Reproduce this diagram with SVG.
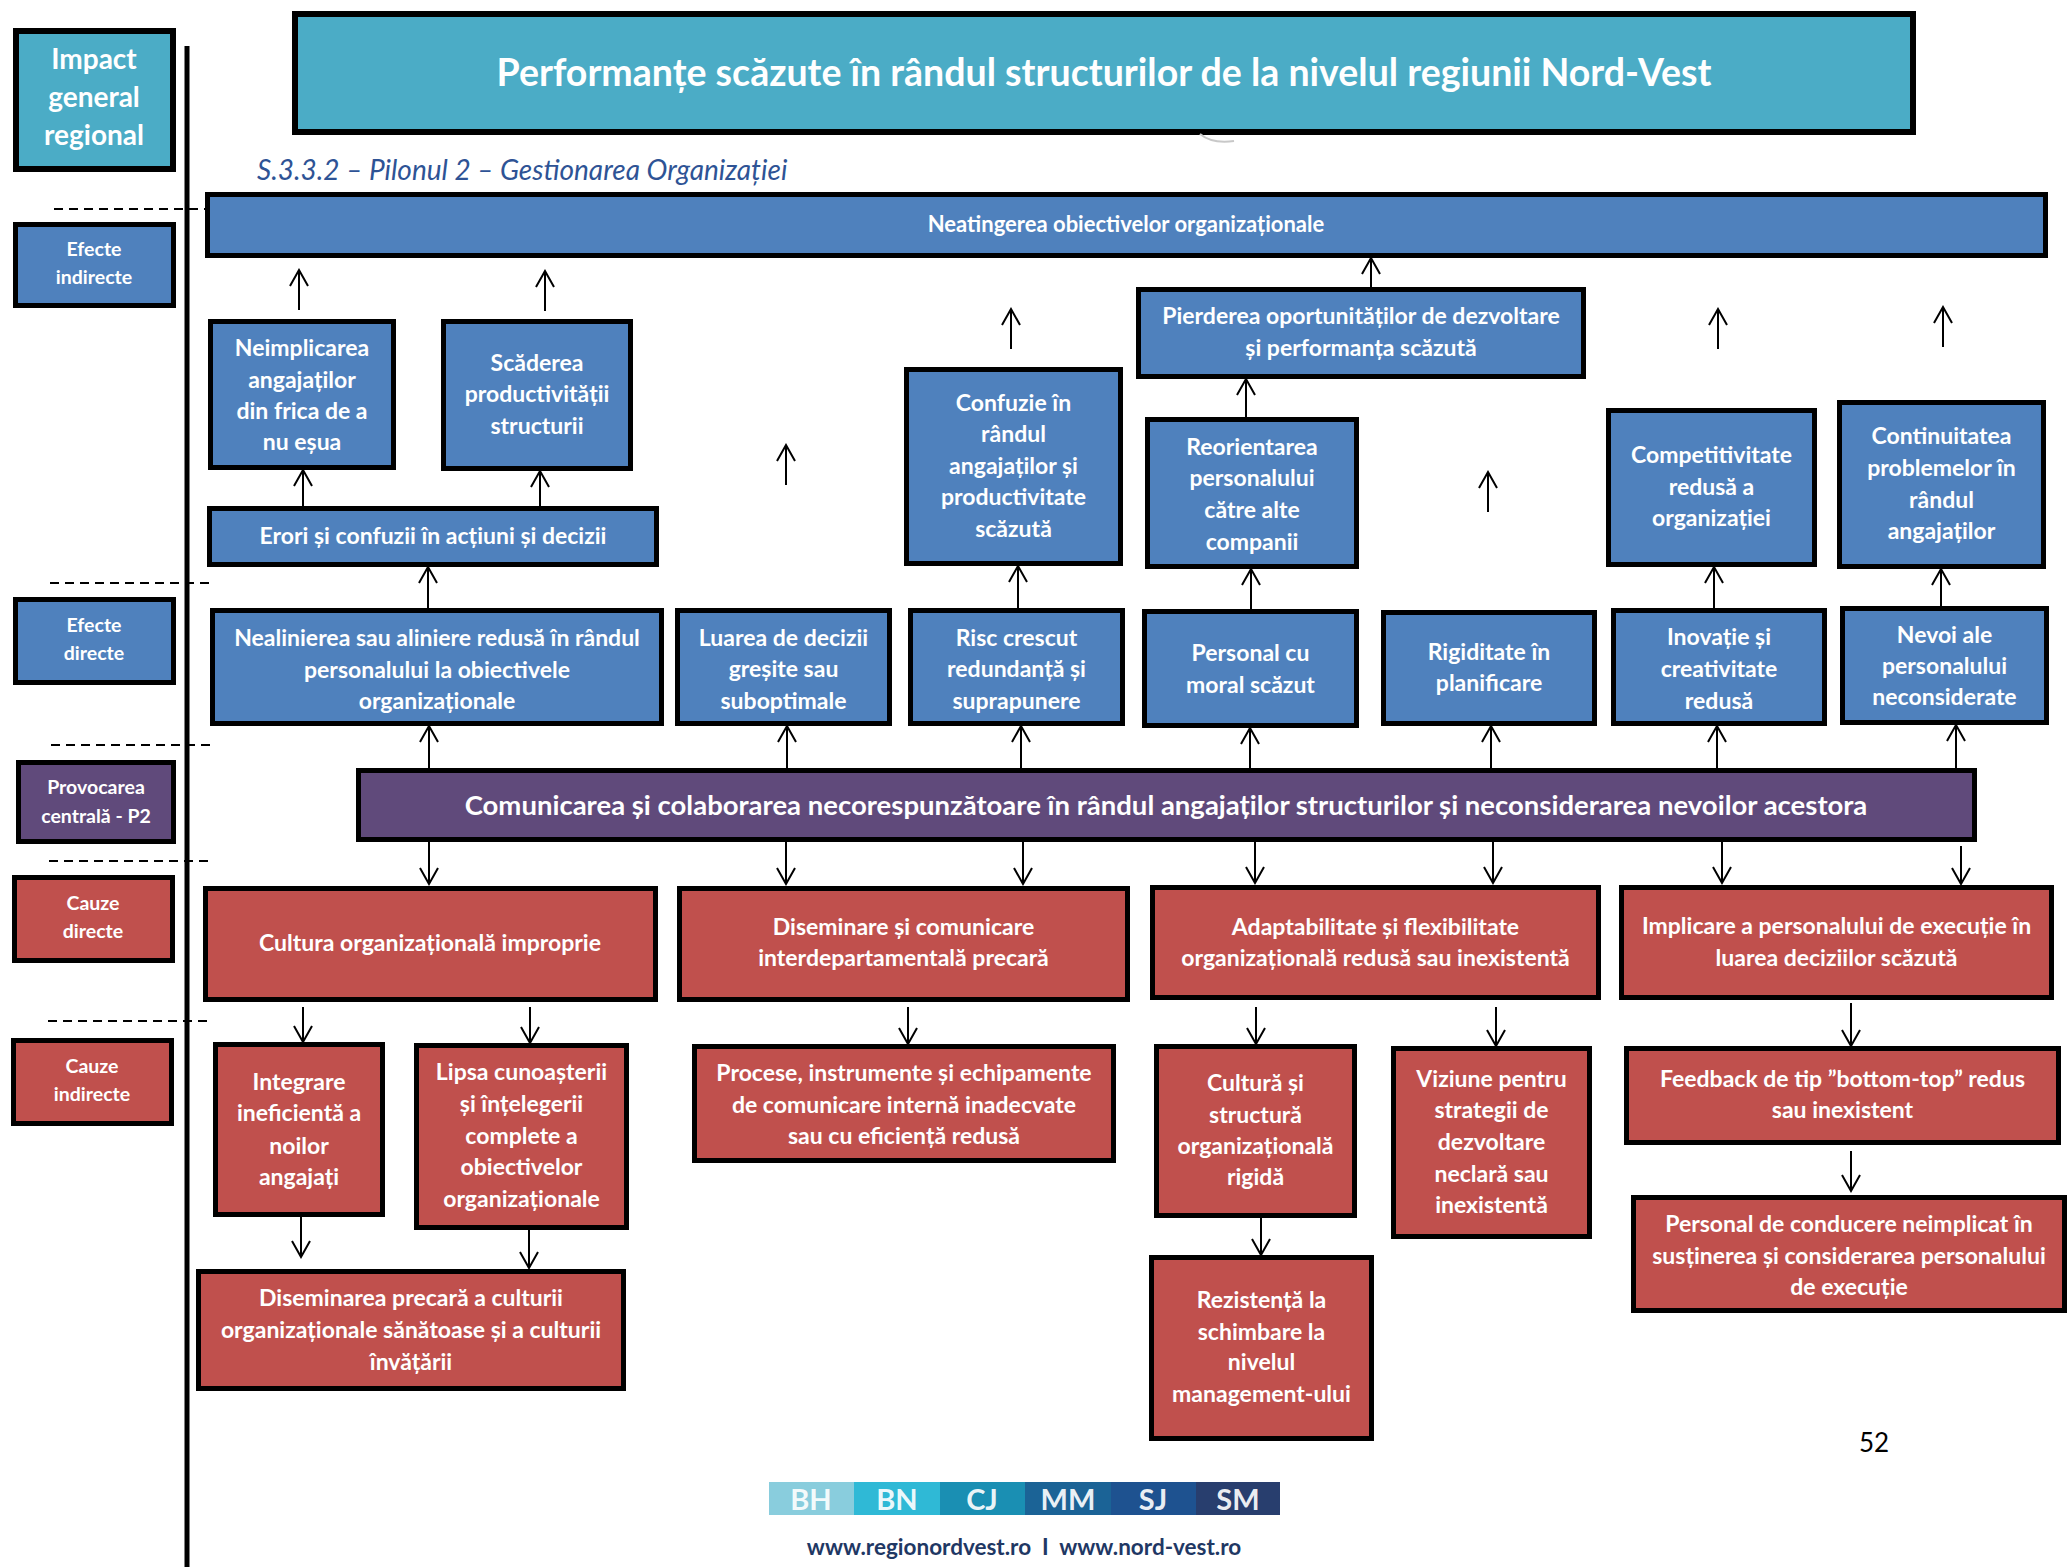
<svg xmlns="http://www.w3.org/2000/svg" width="2070" height="1567" viewBox="0 0 2070 1567">
  <style>
    .box { stroke: #000; stroke-width: 5; }
    .teal { fill: #4BACC6; }
    .blue { fill: #4F81BD; }
    .purple { fill: #604A7B; }
    .red { fill: #C0504D; }
    text { font-family: Lato, "Liberation Sans", sans-serif; }
    .t { fill: #fff; font-weight: bold; font-size: 23px; text-anchor: middle; }
    .lbl { fill: #fff; font-weight: bold; font-size: 19.5px; text-anchor: middle; }
    .conn line { stroke: #000; stroke-width: 2; marker-end: url(#arr); }
    .dash { stroke: #000; stroke-width: 2; stroke-dasharray: 9 6; }
    .seg { fill: #fff; fill-opacity: 0.92; font-weight: bold; font-size: 29px; text-anchor: middle; }
  </style>
  <defs>
    <marker id="arr" viewBox="-1 -1 19 20" refX="16" refY="9" markerWidth="19" markerHeight="20" markerUnits="userSpaceOnUse" orient="auto">
      <path d="M0,0 L16,9 L0,18" fill="none" stroke="#000" stroke-width="2"/>
    </marker>
  </defs>

  <rect width="2070" height="1567" fill="#fff"/>

  <!-- level legend column -->
  <g id="legend-impact">
    <rect class="box teal" x="16" y="31" width="157" height="138" style="stroke-width:6"/>
    <text class="t" style="font-size:28px"><tspan x="94" y="69">Impact</tspan><tspan x="94" y="107">general</tspan><tspan x="94" y="145">regional</tspan></text>
  </g>
  <g id="legend-efecte-indirecte">
    <rect class="box blue" x="15.5" y="224.5" width="158" height="81"/>
    <text class="lbl"><tspan x="94" y="256">Efecte</tspan><tspan x="94" y="284">indirecte</tspan></text>
  </g>
  <g id="legend-efecte-directe">
    <rect class="box blue" x="15.5" y="599.5" width="158" height="83"/>
    <text class="lbl"><tspan x="94" y="632">Efecte</tspan><tspan x="94" y="660">directe</tspan></text>
  </g>
  <g id="legend-provocare">
    <rect class="box purple" x="18.5" y="762.5" width="155" height="79"/>
    <text class="lbl"><tspan x="96" y="794">Provocarea</tspan><tspan x="96" y="823">centrală - P2</tspan></text>
  </g>
  <g id="legend-cauze-directe">
    <rect class="box red" x="14.5" y="877.5" width="158" height="83"/>
    <text class="lbl"><tspan x="93" y="910">Cauze</tspan><tspan x="93" y="938">directe</tspan></text>
  </g>
  <g id="legend-cauze-indirecte">
    <rect class="box red" x="13.5" y="1040.5" width="158" height="83"/>
    <text class="lbl"><tspan x="92" y="1073">Cauze</tspan><tspan x="92" y="1101">indirecte</tspan></text>
  </g>

  <!-- separator rule and level dividers -->
  <g id="dividers">
    <line x1="187" y1="46" x2="187" y2="1567" stroke="#000" stroke-width="5"/>
    <line class="dash" x1="54" y1="209" x2="216" y2="209"/>
    <line class="dash" x1="50" y1="583" x2="212" y2="583"/>
    <line class="dash" x1="51" y1="745" x2="212" y2="745"/>
    <line class="dash" x1="49" y1="861" x2="212" y2="861"/>
    <line class="dash" x1="48" y1="1021" x2="210" y2="1021"/>
  </g>

  <!-- heading -->
  <g id="title">
    <rect class="box teal" x="295" y="14" width="1618" height="118" style="stroke-width:6"/>
    <text class="t" x="1104" y="86" style="font-size:37.5px">Performanțe scăzute în rândul structurilor de la nivelul regiunii Nord-Vest</text>
  </g>
  <path d="M1200,134 Q1212,144 1234,141" fill="none" stroke="#c8c8c8" stroke-width="2"/>
  <text id="subtitle" x="257" y="180" fill="#2E5395" font-style="italic" font-size="28">S.3.3.2 – Pilonul 2 – Gestionarea Organizației</text>

  <!-- indirect effects -->
  <g id="neatingerea">
    <rect class="box blue" x="207.5" y="194.5" width="1838" height="61"/>
    <text class="t" x="1126" y="232" style="font-size:22px">Neatingerea obiectivelor organizaționale</text>
  </g>
  <g id="neimplicarea">
    <rect class="box blue" x="210.5" y="321.5" width="183" height="146"/>
    <text class="t"><tspan x="302" y="356">Neimplicarea</tspan><tspan x="302" y="388">angajaților</tspan><tspan x="302" y="419">din frica de a</tspan><tspan x="302" y="450">nu eșua</tspan></text>
  </g>
  <g id="scaderea">
    <rect class="box blue" x="443.5" y="321.5" width="187" height="147"/>
    <text class="t"><tspan x="537" y="371">Scăderea</tspan><tspan x="537" y="402">productivității</tspan><tspan x="537" y="434">structurii</tspan></text>
  </g>
  <g id="erori">
    <rect class="box blue" x="209.5" y="508.5" width="447" height="56"/>
    <text class="t" x="433" y="544">Erori și confuzii în acțiuni și decizii</text>
  </g>
  <g id="confuzie">
    <rect class="box blue" x="906.5" y="369.5" width="214" height="194"/>
    <text class="t"><tspan x="1013.5" y="411">Confuzie în</tspan><tspan x="1013.5" y="442">rândul</tspan><tspan x="1013.5" y="474">angajaților și</tspan><tspan x="1013.5" y="505">productivitate</tspan><tspan x="1013.5" y="537">scăzută</tspan></text>
  </g>
  <g id="pierderea">
    <rect class="box blue" x="1138.5" y="289.5" width="445" height="87"/>
    <text class="t"><tspan x="1361" y="324">Pierderea oportunităților de dezvoltare</tspan><tspan x="1361" y="356">și performanța scăzută</tspan></text>
  </g>
  <g id="reorientarea">
    <rect class="box blue" x="1147.5" y="419.5" width="209" height="147"/>
    <text class="t"><tspan x="1252" y="455">Reorientarea</tspan><tspan x="1252" y="486">personalului</tspan><tspan x="1252" y="518">către alte</tspan><tspan x="1252" y="550">companii</tspan></text>
  </g>
  <g id="competitivitate">
    <rect class="box blue" x="1608.5" y="410.5" width="206" height="154"/>
    <text class="t"><tspan x="1711.5" y="463">Competitivitate</tspan><tspan x="1711.5" y="495">redusă a</tspan><tspan x="1711.5" y="526">organizației</tspan></text>
  </g>
  <g id="continuitatea">
    <rect class="box blue" x="1839.5" y="402.5" width="204" height="164"/>
    <text class="t"><tspan x="1941.5" y="444">Continuitatea</tspan><tspan x="1941.5" y="476">problemelor în</tspan><tspan x="1941.5" y="508">rândul</tspan><tspan x="1941.5" y="539">angajaților</tspan></text>
  </g>

  <!-- direct effects -->
  <g id="nealinierea">
    <rect class="box blue" x="212.5" y="610.5" width="449" height="113"/>
    <text class="t"><tspan x="437" y="646">Nealinierea sau aliniere redusă în rândul</tspan><tspan x="437" y="678">personalului la obiectivele</tspan><tspan x="437" y="709">organizaționale</tspan></text>
  </g>
  <g id="luarea">
    <rect class="box blue" x="677.5" y="610.5" width="212" height="113"/>
    <text class="t"><tspan x="783.5" y="646">Luarea de decizii</tspan><tspan x="783.5" y="677">greșite sau</tspan><tspan x="783.5" y="709">suboptimale</tspan></text>
  </g>
  <g id="risc">
    <rect class="box blue" x="910.5" y="610.5" width="212" height="113"/>
    <text class="t"><tspan x="1016.5" y="646">Risc crescut</tspan><tspan x="1016.5" y="677">redundanță și</tspan><tspan x="1016.5" y="709">suprapunere</tspan></text>
  </g>
  <g id="moral">
    <rect class="box blue" x="1144.5" y="611.5" width="212" height="114"/>
    <text class="t"><tspan x="1250.5" y="661">Personal cu</tspan><tspan x="1250.5" y="693">moral scăzut</tspan></text>
  </g>
  <g id="rigiditate">
    <rect class="box blue" x="1383.5" y="612.5" width="211" height="111"/>
    <text class="t"><tspan x="1489" y="660">Rigiditate în</tspan><tspan x="1489" y="691">planificare</tspan></text>
  </g>
  <g id="inovatie">
    <rect class="box blue" x="1613.5" y="610.5" width="211" height="113"/>
    <text class="t"><tspan x="1719" y="645">Inovație și</tspan><tspan x="1719" y="677">creativitate</tspan><tspan x="1719" y="709">redusă</tspan></text>
  </g>
  <g id="nevoi">
    <rect class="box blue" x="1842.5" y="608.5" width="204" height="114"/>
    <text class="t"><tspan x="1944.5" y="643">Nevoi ale</tspan><tspan x="1944.5" y="674">personalului</tspan><tspan x="1944.5" y="705">neconsiderate</tspan></text>
  </g>

  <!-- central problem -->
  <g id="provocare-centrala">
    <rect class="box purple" x="358.5" y="770.5" width="1616" height="69"/>
    <text class="t" x="1166" y="815" style="font-size:27.5px">Comunicarea și colaborarea necorespunzătoare în rândul angajaților structurilor și neconsiderarea nevoilor acestora</text>
  </g>

  <!-- direct causes -->
  <g id="cultura">
    <rect class="box red" x="205.5" y="888.5" width="450" height="111"/>
    <text class="t" x="430" y="951">Cultura organizațională improprie</text>
  </g>
  <g id="diseminare">
    <rect class="box red" x="679.5" y="888.5" width="448" height="111"/>
    <text class="t"><tspan x="903.5" y="935">Diseminare și comunicare</tspan><tspan x="903.5" y="966">interdepartamentală precară</tspan></text>
  </g>
  <g id="adaptabilitate">
    <rect class="box red" x="1152.5" y="887.5" width="446" height="110"/>
    <text class="t"><tspan x="1375.5" y="935">Adaptabilitate și flexibilitate</tspan><tspan x="1375.5" y="966">organizațională redusă sau inexistentă</tspan></text>
  </g>
  <g id="implicare">
    <rect class="box red" x="1621.5" y="887.5" width="430" height="110"/>
    <text class="t"><tspan x="1836.5" y="934">Implicare a personalului de execuție în</tspan><tspan x="1836.5" y="966">luarea deciziilor scăzută</tspan></text>
  </g>

  <!-- indirect causes -->
  <g id="integrare">
    <rect class="box red" x="215.5" y="1044.5" width="167" height="170"/>
    <text class="t"><tspan x="299" y="1090">Integrare</tspan><tspan x="299" y="1121">ineficientă a</tspan><tspan x="299" y="1154">noilor</tspan><tspan x="299" y="1185">angajați</tspan></text>
  </g>
  <g id="lipsa">
    <rect class="box red" x="416.5" y="1045.5" width="210" height="182"/>
    <text class="t"><tspan x="521.5" y="1080">Lipsa cunoașterii</tspan><tspan x="521.5" y="1112">și înțelegerii</tspan><tspan x="521.5" y="1144">complete a</tspan><tspan x="521.5" y="1175">obiectivelor</tspan><tspan x="521.5" y="1207">organizaționale</tspan></text>
  </g>
  <g id="diseminarea-precara">
    <rect class="box red" x="198.5" y="1271.5" width="425" height="117"/>
    <text class="t"><tspan x="411" y="1306">Diseminarea precară a culturii</tspan><tspan x="411" y="1338">organizaționale sănătoase și a culturii</tspan><tspan x="411" y="1370">învățării</tspan></text>
  </g>
  <g id="procese">
    <rect class="box red" x="694.5" y="1046.5" width="419" height="114"/>
    <text class="t"><tspan x="904" y="1081">Procese, instrumente și echipamente</tspan><tspan x="904" y="1113">de comunicare internă inadecvate</tspan><tspan x="904" y="1144">sau cu eficiență redusă</tspan></text>
  </g>
  <g id="cultura-rigida">
    <rect class="box red" x="1156.5" y="1046.5" width="198" height="169"/>
    <text class="t"><tspan x="1255.5" y="1091">Cultură și</tspan><tspan x="1255.5" y="1123">structură</tspan><tspan x="1255.5" y="1154">organizațională</tspan><tspan x="1255.5" y="1185">rigidă</tspan></text>
  </g>
  <g id="rezistenta">
    <rect class="box red" x="1151.5" y="1257.5" width="220" height="181"/>
    <text class="t"><tspan x="1261.5" y="1308">Rezistență la</tspan><tspan x="1261.5" y="1340">schimbare la</tspan><tspan x="1261.5" y="1370">nivelul</tspan><tspan x="1261.5" y="1402">management-ului</tspan></text>
  </g>
  <g id="viziune">
    <rect class="box red" x="1393.5" y="1048.5" width="196" height="188"/>
    <text class="t"><tspan x="1491.5" y="1087">Viziune pentru</tspan><tspan x="1491.5" y="1118">strategii de</tspan><tspan x="1491.5" y="1150">dezvoltare</tspan><tspan x="1491.5" y="1182">neclară sau</tspan><tspan x="1491.5" y="1213">inexistentă</tspan></text>
  </g>
  <g id="feedback">
    <rect class="box red" x="1626.5" y="1048.5" width="432" height="94"/>
    <text class="t"><tspan x="1842.5" y="1087">Feedback de tip ”bottom-top” redus</tspan><tspan x="1842.5" y="1118">sau inexistent</tspan></text>
  </g>
  <g id="personal-conducere">
    <rect class="box red" x="1633.5" y="1197.5" width="431" height="113"/>
    <text class="t"><tspan x="1849" y="1232">Personal de conducere neimplicat în</tspan><tspan x="1849" y="1264">susținerea și considerarea personalului</tspan><tspan x="1849" y="1295">de execuție</tspan></text>
  </g>

  <!-- arrows -->
  <g id="connectors" class="conn">
    <line x1="299" y1="310" x2="299" y2="270"/>
    <line x1="545" y1="311" x2="545" y2="271"/>
    <line x1="786" y1="485" x2="786" y2="445"/>
    <line x1="1011" y1="349" x2="1011" y2="309"/>
    <line x1="1718" y1="349" x2="1718" y2="309"/>
    <line x1="1943" y1="347" x2="1943" y2="307"/>
    <line x1="1488" y1="512" x2="1488" y2="472"/>
    <line x1="1371" y1="287" x2="1371" y2="258"/>
    <line x1="303" y1="506" x2="303" y2="470"/>
    <line x1="540" y1="506" x2="540" y2="471"/>
    <line x1="428" y1="608" x2="428" y2="567"/>
    <line x1="1018" y1="608" x2="1018" y2="566"/>
    <line x1="1246" y1="417" x2="1246" y2="379"/>
    <line x1="1251" y1="609" x2="1251" y2="569"/>
    <line x1="1714" y1="608" x2="1714" y2="567"/>
    <line x1="1941" y1="606" x2="1941" y2="569"/>
    <line x1="429" y1="768" x2="429" y2="726"/>
    <line x1="787" y1="768" x2="787" y2="726"/>
    <line x1="1021" y1="768" x2="1021" y2="726"/>
    <line x1="1250" y1="768" x2="1250" y2="728"/>
    <line x1="1491" y1="768" x2="1491" y2="726"/>
    <line x1="1717" y1="768" x2="1717" y2="726"/>
    <line x1="1956" y1="768" x2="1956" y2="725"/>
    <line x1="429" y1="842" x2="429" y2="884"/>
    <line x1="786" y1="842" x2="786" y2="884"/>
    <line x1="1023" y1="842" x2="1023" y2="884"/>
    <line x1="1255" y1="842" x2="1255" y2="883"/>
    <line x1="1493" y1="842" x2="1493" y2="883"/>
    <line x1="1722" y1="842" x2="1722" y2="883"/>
    <line x1="1961" y1="846" x2="1961" y2="884"/>
    <line x1="303" y1="1007" x2="303" y2="1042"/>
    <line x1="530" y1="1007" x2="530" y2="1043"/>
    <line x1="908" y1="1007" x2="908" y2="1044"/>
    <line x1="1256" y1="1007" x2="1256" y2="1044"/>
    <line x1="1496" y1="1007" x2="1496" y2="1046"/>
    <line x1="1851" y1="1003" x2="1851" y2="1046"/>
    <line x1="301" y1="1217" x2="301" y2="1257"/>
    <line x1="529" y1="1230" x2="529" y2="1268"/>
    <line x1="1261" y1="1218" x2="1261" y2="1255"/>
    <line x1="1851" y1="1151" x2="1851" y2="1191"/>
  </g>

  <!-- page footer -->
  <text id="page-number" x="1874" y="1452" font-size="26" text-anchor="middle" fill="#000">52</text>
  <g id="county-bar">
    <rect x="769" y="1482" width="86" height="33" fill="#89CDDD"/>
    <rect x="854" y="1482" width="87" height="33" fill="#2FB9D6"/>
    <rect x="940" y="1482" width="86" height="33" fill="#1A8FB3"/>
    <rect x="1025" y="1482" width="87" height="33" fill="#1B6396"/>
    <rect x="1111" y="1482" width="86" height="33" fill="#1E5290"/>
    <rect x="1196" y="1482" width="84" height="33" fill="#283E6E"/>
    <text class="seg" x="811" y="1510">BH</text>
    <text class="seg" x="897" y="1510">BN</text>
    <text class="seg" x="982" y="1510">CJ</text>
    <text class="seg" x="1068" y="1510">MM</text>
    <text class="seg" x="1153" y="1510">SJ</text>
    <text class="seg" x="1238" y="1510">SM</text>
  </g>
  <text id="footer-links" x="1024" y="1555" font-size="22.5" font-weight="bold" text-anchor="middle" fill="#1F3864" xml:space="preserve">www.regionordvest.ro  I  www.nord-vest.ro</text>
</svg>
